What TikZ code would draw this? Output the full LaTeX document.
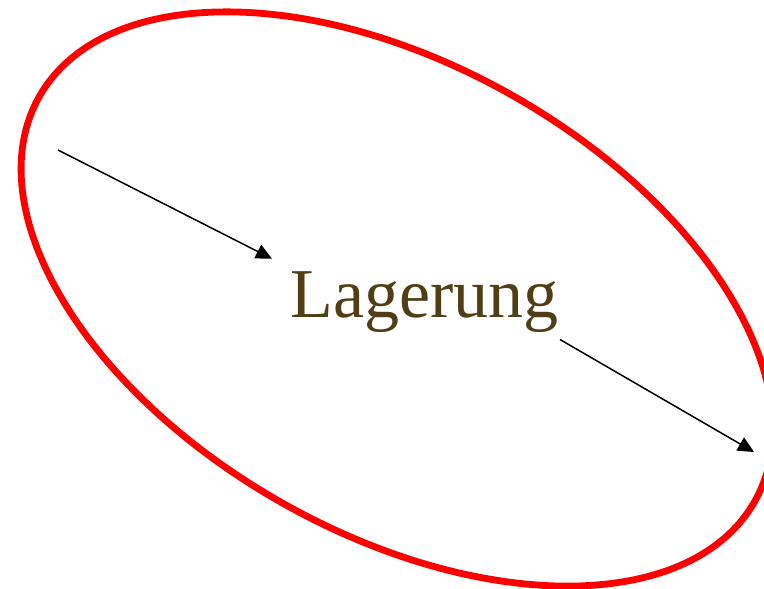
\documentclass[tikz,border=0pt]{standalone}
\usepackage{fontspec}
\setmainfont{Liberation Serif}
\usetikzlibrary{arrows.meta}
\definecolor{ring}{HTML}{FF0000}
\definecolor{word}{HTML}{503F16}
\tikzset{
  >={Triangle[length=8pt,width=7.5pt]},
  arr/.style={->,draw=black,line width=0.75pt},
  ringline/.style={draw=ring,line width=3.4pt},
  lab/.style={font=\fontsize{35}{40}\selectfont,text=word,inner sep=3pt},
}
\begin{document}
\begin{tikzpicture}[x=0.5pt,y=0.5pt]
\useasboundingbox (0,0) rectangle (764,588);
\draw[ringline,rotate around={-29.5:(397,289)}] (397,289) ellipse [x radius=411,y radius=234];
\node[lab,anchor=base] (lager) at (424.5,270) {Lagerung};
\coordinate (from) at (58,438);
\coordinate (to) at (754,136);
\draw[arr] (from) -- ([shift={(-12,7)}]lager.north west);
\draw[arr] ([shift={(-5,0)}]lager.south east) -- (to);
\end{tikzpicture}
\end{document}
